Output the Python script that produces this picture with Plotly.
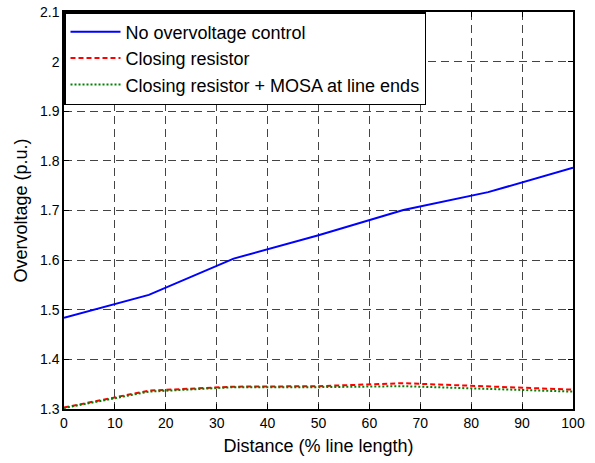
import plotly.graph_objects as go

# Data
distance = [0, 16.67, 33.33, 50, 66.67, 83.33, 100]
no_control = [1.484, 1.530, 1.603, 1.650, 1.701, 1.737, 1.786]
closing_resistor = [1.303, 1.337, 1.345, 1.346, 1.352, 1.346, 1.339]
resistor_mosa = [1.302, 1.335, 1.344, 1.344, 1.346, 1.341, 1.335]

series_names = ["No overvoltage control", "Closing resistor",
                "Closing resistor + MOSA at line ends"]

x_ticks = [0, 10, 20, 30, 40, 50, 60, 70, 80, 90, 100]
y_ticks = [1.3, 1.4, 1.5, 1.6, 1.7, 1.8, 1.9, 2.0, 2.1]
y_tick_text = ["1.3", "1.4", "1.5", "1.6", "1.7", "1.8", "1.9", "2", "2.1"]

FONT = "Liberation Sans, Arial, sans-serif"

fig = go.Figure()
fig.add_trace(go.Scatter(x=distance, y=no_control, mode="lines", name=series_names[0],
                         line=dict(color="#0000FF", width=2)))
fig.add_trace(go.Scatter(x=distance, y=closing_resistor, mode="lines", name=series_names[1],
                         line=dict(color="#FF0000", width=2, dash="5px,3px")))
fig.add_trace(go.Scatter(x=distance, y=resistor_mosa, mode="lines", name=series_names[2],
                         line=dict(color="#008000", width=2, dash="2px,2px")))

axis_common = dict(
    showline=True, linecolor="black", linewidth=1.5, mirror="ticks",
    ticks="inside", ticklen=5, tickcolor="black", tickwidth=1,
    showgrid=True, gridcolor="#444444", gridwidth=1, griddash="8px,5px",
    zeroline=False, tickfont=dict(family=FONT, size=14, color="black"),
)

fig.update_xaxes(range=[0, 100], tickvals=x_ticks,
                 title=dict(text="Distance (% line length)",
                            font=dict(family=FONT, size=18, color="black"), standoff=10),
                 **axis_common)
fig.update_yaxes(range=[1.3, 2.1], tickvals=y_ticks, ticktext=y_tick_text,
                 title=dict(text="Overvoltage (p.u.)",
                            font=dict(family=FONT, size=18, color="black"), standoff=8),
                 **axis_common)

fig.update_layout(
    width=595, height=463,
    margin=dict(l=64, r=22, t=11.5, b=53.5, autoexpand=False),
    paper_bgcolor="white", plot_bgcolor="white",
    font=dict(family=FONT, color="black"),
    showlegend=True,
    legend=dict(x=0, y=1, xanchor="left", yanchor="top",
                bgcolor="white", bordercolor="black", borderwidth=1.5,
                font=dict(family=FONT, size=18, color="black"),
                tracegroupgap=0, itemwidth=50),
)

fig.write_html("out.html", config={"displayModeBar": False},
               post_script="document.body.style.margin='0';")
